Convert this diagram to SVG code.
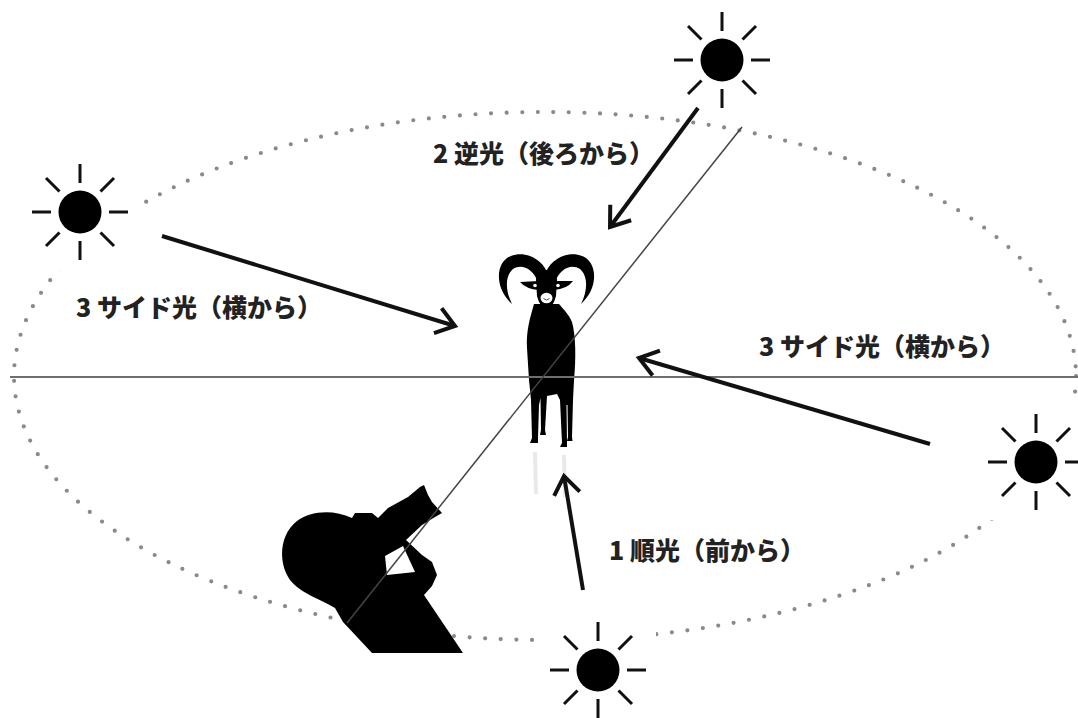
<svg xmlns="http://www.w3.org/2000/svg" width="1078" height="718" viewBox="0 0 1078 718">
  <style>
    .orbit { fill: none; stroke: #8a8a8a; stroke-width: 4.2; stroke-linecap: round; stroke-dasharray: 0 15.6; }
    .axis { stroke: #6e6e6e; stroke-width: 2; }
    .sight { stroke: #444; stroke-width: 1.5; }
    .ray { stroke: #111; stroke-width: 3; stroke-linecap: butt; }
    .disc { fill: #000; }
    .mask { fill: #fff; }
    .arrow { stroke: #111; stroke-width: 4; fill: none; marker-end: url(#chev); }
    .label { font-family: "Noto Sans CJK JP", "Noto Sans", sans-serif; font-weight: 900; font-size: 25px; fill: #222; }
    .silhouette { fill: #000; }
  </style>
  <defs>
    <marker id="chev" markerUnits="userSpaceOnUse" markerWidth="40" markerHeight="40" refX="0" refY="0" orient="auto" overflow="visible">
      <path d="M-18,-13 L0,0 L-18,13" fill="none" stroke="#111" stroke-width="4" stroke-linejoin="miter"/>
    </marker>
    <g id="sun">
      <rect class="mask" x="-58" y="-58" width="116" height="116"/>
      <circle class="disc" r="21.5"/>
      <g class="ray">
        <line x1="0" y1="-29" x2="0" y2="-48"/>
        <line x1="0" y1="29" x2="0" y2="48"/>
        <line x1="-29" y1="0" x2="-48" y2="0"/>
        <line x1="29" y1="0" x2="48" y2="0"/>
        <line x1="20.5" y1="-20.5" x2="34" y2="-34"/>
        <line x1="-20.5" y1="-20.5" x2="-34" y2="-34"/>
        <line x1="20.5" y1="20.5" x2="34" y2="34"/>
        <line x1="-20.5" y1="20.5" x2="-34" y2="34"/>
      </g>
    </g>
  </defs>

  <rect width="1078" height="718" fill="#fff"/>

  <!-- path of the sun around the subject -->
  <ellipse id="orbit" class="orbit" cx="545" cy="376" rx="531" ry="264"/>

  <!-- ram reflection -->
  <g id="reflection" stroke="#e4e4e4" stroke-width="4" opacity="0.8">
    <line x1="535" y1="452" x2="536" y2="494"/>
    <line x1="564" y1="455" x2="565" y2="497"/>
  </g>

  <!-- suns -->
  <g id="sun-back"><use href="#sun" x="722" y="60"/></g>
  <g id="sun-left"><use href="#sun" x="80" y="212"/></g>
  <g id="sun-right"><use href="#sun" x="1036" y="462"/></g>
  <g id="sun-front"><use href="#sun" x="598" y="670"/></g>

  <!-- ram -->
  <g id="ram" class="silhouette">
    <path d="M547,272 C541,257 521,249 507,258 C495,267 496,290 512,304 C505,290 505,276 513,269 C521,264 532,267 538,282 Z"/>
    <path d="M546,272 C552,257 572,249 586,258 C598,267 597,290 581,304 C588,290 588,276 580,269 C572,264 561,267 555,282 Z"/>
    <path d="M537,270 L556,270 L557,280 L556,296 Q553,308 546.5,309 Q540,308 537,296 L536,280 Z"/>
    <path d="M539,281 L520,282 Q526,289 539,290 Z"/>
    <path d="M554,281 L573,281 Q567,289 554,290 Z"/>
    <path d="M534,304 C530,318 526,331 527,348 L529,380 L531,400 L532,438 L530,443 L538,443 L538,438 L539,405 L540.5,398 L541,430 L540,435 L546,435 L545,430 L547,396 L557,394 L560,400 L562,443 L560,447 L567,447 L567,442 L566.5,405 L567.5,405 L568,437 L567,441 L572.5,441 L572,437 L573,400 L574,380 C576,360 576,336 572,322 C568,313 563,309 559,304 Z"/>
    <circle cx="535" cy="285.5" r="1.8" fill="#fff"/>
    <circle cx="558" cy="285.5" r="1.8" fill="#fff"/>
    <ellipse cx="546.5" cy="298" rx="6" ry="5.2" fill="#fff"/>
    <path d="M543.5,298.5 Q546.5,301.5 549.5,298.5" stroke="#555" stroke-width="1" fill="none"/>
  </g>

  <!-- photographer -->
  <g id="photographer" class="silhouette">
    <path fill-rule="evenodd" d="M290,580 C278,563 279,535 297,521 C310,511 333,509 352,518 L355,513 L372,513 L378,518 L388,508 L408,497 L420,487 L424,485 L428,495 L432,502 L442,513 L435,517 L422,525 L406,540 L422,555 L432,562 L437,575 L432,586 L424,595 L463,653 L372,653 L343,622 L335,608 C322,600 300,593 290,580 Z M385,556 L403,546 L415,572 L387,575 Z"/>
  </g>

  <!-- sight lines -->
  <g id="axes">
    <line class="axis" x1="10" y1="377" x2="1078" y2="377"/>
    <line class="sight" x1="742" y1="127" x2="347" y2="623"/>
  </g>

  <!-- light direction arrows -->
  <g id="connectors">
    <line class="arrow" x1="583" y1="590" x2="564" y2="476"/>
    <line class="arrow" x1="698" y1="108" x2="610" y2="227"/>
    <line class="arrow" x1="162" y1="236" x2="455" y2="326"/>
    <line class="arrow" x1="930" y1="444" x2="639" y2="358"/>
  </g>

  <!-- labels -->
  <g id="labels">
    <text class="label" x="433" y="163">2 逆光（後ろから）</text>
    <text class="label" x="76" y="317">3 サイド光（横から）</text>
    <text class="label" x="759" y="356">3 サイド光（横から）</text>
    <text class="label" x="609" y="560">1 順光（前から）</text>
  </g>
</svg>
